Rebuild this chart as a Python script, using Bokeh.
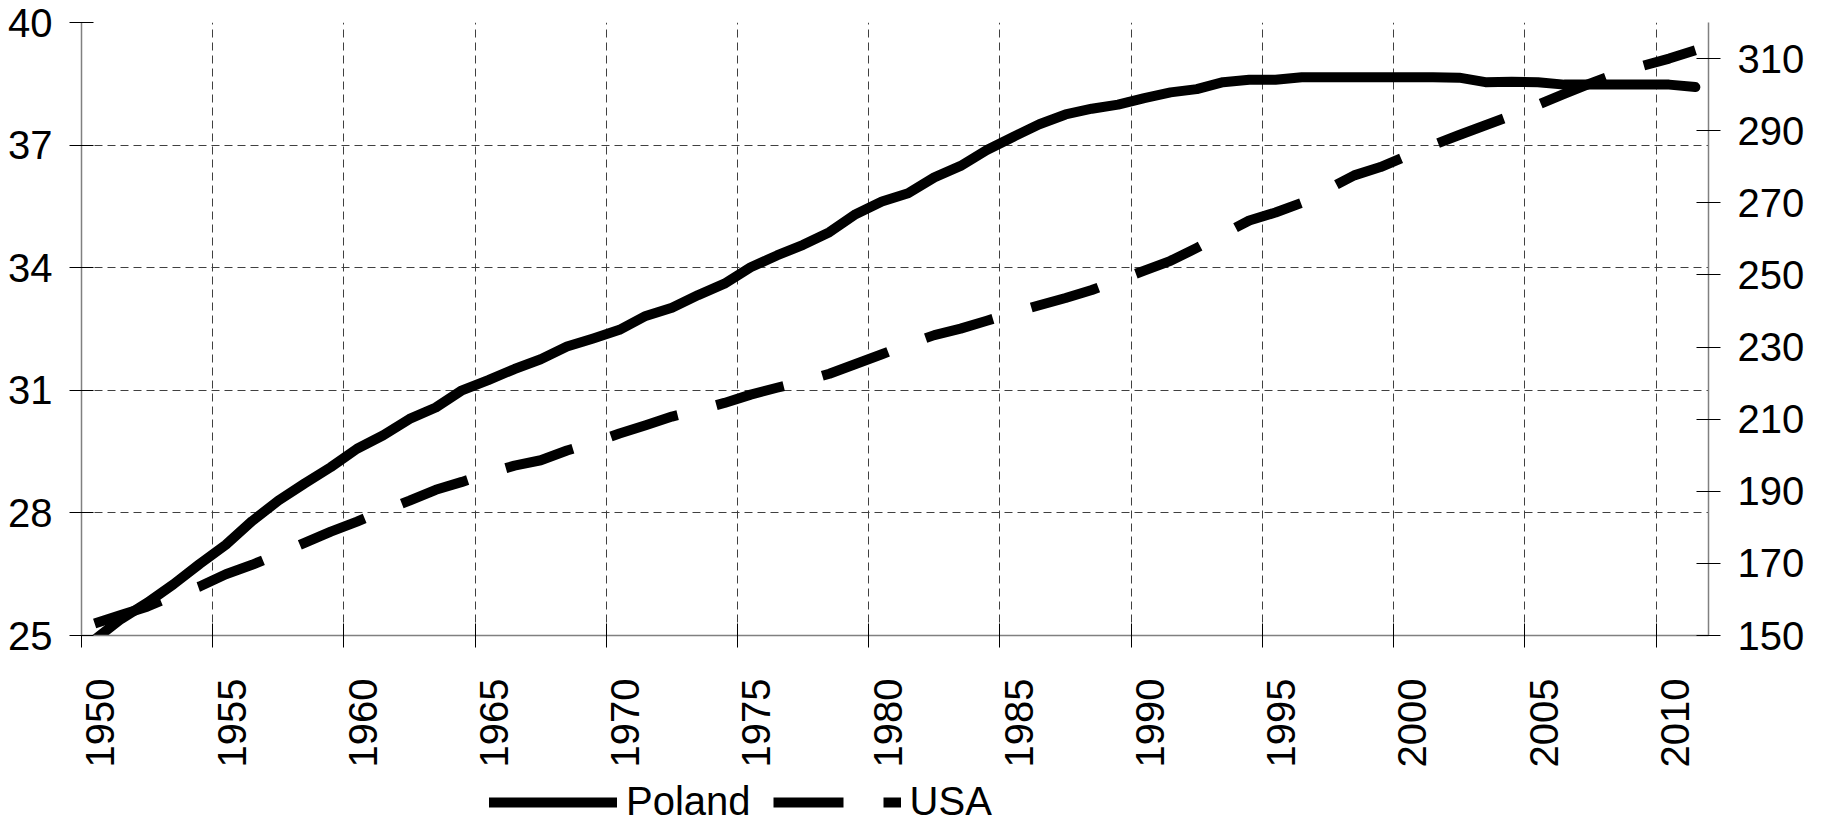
import math
from bokeh.plotting import figure
from bokeh.layouts import column
from bokeh.models import (Range1d, LinearAxis, FixedTicker, Grid, Legend, LegendItem,
                          ColumnDataSource, CustomJSTickFormatter)
from bokeh.embed import file_html
from bokeh.resources import INLINE

# ---- data ----
years = list(range(1950, 2012))
poland = [24.90, 25.40, 25.80, 26.25, 26.75, 27.22, 27.80, 28.30, 28.72, 29.12,
          29.57, 29.90, 30.30, 30.58, 31.00, 31.25, 31.52, 31.76, 32.07, 32.27,
          32.48, 32.82, 33.02, 33.33, 33.61, 34.01, 34.30, 34.56, 34.87, 35.31,
          35.62, 35.82, 36.21, 36.49, 36.88, 37.20, 37.51, 37.75, 37.89, 37.99,
          38.15, 38.29, 38.37, 38.54, 38.60, 38.60, 38.66, 38.66, 38.66, 38.66,
          38.66, 38.66, 38.65, 38.54, 38.55, 38.54, 38.48, 38.48, 38.48, 38.48,
          38.48, 38.42]
usa = [153.3, 155.7, 158.0, 161.0, 163.6, 167.0, 169.6, 172.6, 175.7, 178.8,
       181.6, 184.6, 187.4, 190.4, 192.6, 195.0, 197.1, 198.6, 201.3, 203.5,
       206.0, 208.3, 210.7, 212.5, 214.5, 216.8, 218.7, 220.5, 222.6, 225.3,
       228.0, 230.8, 233.3, 235.1, 237.3, 239.5, 241.6, 243.6, 245.8, 248.5,
       251.2, 253.9, 257.5, 261.3, 265.1, 267.3, 270.0, 273.8, 277.6, 279.9,
       283.0, 286.0, 288.8, 291.5, 294.2, 297.2, 300.2, 303.1, 305.8, 308.0,
       310.0, 312.3]
left_ticks = [25, 28, 31, 34, 37, 40]
right_ticks = [150, 170, 190, 210, 230, 250, 270, 290, 310]
year_labels = [1950, 1955, 1960, 1965, 1970, 1975, 1980, 1985, 1990, 1995, 2000, 2005, 2010]
series_names = ["Poland", "USA"]

FONT = "Liberation Sans"
FS = "40px"
W = 1816

boundaries = [y - 0.5 for y in year_labels]
label_nudge = 0.22  # visual centring of rotated labels on their category

p = figure(width=W, height=770,
           x_range=Range1d(years[0] - 0.5, years[-1] + 0.5),
           y_range=Range1d(left_ticks[0], left_ticks[-1]),
           x_axis_type=None, y_axis_type=None,
           toolbar_location=None, output_backend="svg",
           min_border_left=81, min_border_right=108,
           min_border_top=22, min_border_bottom=119)
p.outline_line_color = None
p.background_fill_color = "white"
p.border_fill_color = "white"
p.extra_y_ranges = {"usa": Range1d(150, 320)}

grid_kw = dict(grid_line_color="#404040", grid_line_dash="8 5", grid_line_width=1)
p.add_layout(Grid(dimension=0, ticker=FixedTicker(ticks=boundaries), **grid_kw))
p.add_layout(Grid(dimension=1, ticker=FixedTicker(ticks=left_ticks), **grid_kw))

src = ColumnDataSource(dict(year=years, poland=poland, usa=usa))
pl_style = dict(line_color="black", line_width=10, line_cap="round", line_join="round")
us_style = dict(line_color="black", line_width=10, line_dash="70 40",
                line_cap="butt", line_join="round")
p.line("year", "poland", source=src, **pl_style)
p.line("year", "usa", source=src, y_range_name="usa", **us_style)


def style(ax):
    ax.axis_line_color = "#808080"
    ax.axis_line_width = 1.5
    ax.major_tick_line_color = "black"
    ax.major_tick_line_width = 1
    ax.major_tick_in = 12
    ax.major_tick_out = 12
    ax.minor_tick_line_color = None
    ax.major_label_text_font = FONT
    ax.major_label_text_font_size = FS
    ax.major_label_text_color = "black"


left = LinearAxis(ticker=FixedTicker(ticks=left_ticks))
style(left)
left.major_label_standoff = 17
p.add_layout(left, "left")

right = LinearAxis(y_range_name="usa", ticker=FixedTicker(ticks=right_ticks))
style(right)
right.major_label_standoff = 17
p.add_layout(right, "right")

# x axis: labels at category centres (major ticks, no marks),
# tick marks at category boundaries (minor ticks)
xl = LinearAxis(ticker=FixedTicker(ticks=[y + label_nudge for y in year_labels],
                                   minor_ticks=boundaries),
                formatter=CustomJSTickFormatter(code="return Math.round(tick).toFixed(0);"))
style(xl)
xl.major_tick_in = 0
xl.major_tick_out = 0
xl.major_tick_line_color = None
xl.minor_tick_line_color = "black"
xl.minor_tick_line_width = 1
xl.minor_tick_in = 12
xl.minor_tick_out = 12
xl.major_label_orientation = math.pi / 2
xl.major_label_standoff = 31
p.add_layout(xl, "below")

# ---- legend strip below the chart ----
lg = figure(width=W, height=54, x_range=Range1d(0, 1), y_range=Range1d(0, 1),
            x_axis_type=None, y_axis_type=None,
            toolbar_location=None, output_backend="svg",
            min_border_left=0, min_border_right=0, min_border_top=0, min_border_bottom=0)
lg.outline_line_color = None
lg.background_fill_color = "white"
lg.border_fill_color = "white"
# legend proxies: same series, lying outside this strip's ranges (not visible)
proxy_pl = lg.line("year", "poland", source=src, **pl_style)
proxy_us = lg.line("year", "usa", source=src, **us_style)
legend = Legend(items=[LegendItem(label=series_names[0], renderers=[proxy_pl]),
                       LegendItem(label=series_names[1], renderers=[proxy_us])],
                orientation="horizontal", location=(408, 0),
                glyph_width=128, glyph_height=20, label_standoff=9, spacing=22,
                padding=0, margin=0, border_line_color=None,
                background_fill_alpha=0,
                label_text_font=FONT, label_text_font_size=FS,
                label_text_color="black")
lg.add_layout(legend)

layout = column(p, lg, spacing=0)
open("out.html", "w").write(file_html(layout, INLINE))
